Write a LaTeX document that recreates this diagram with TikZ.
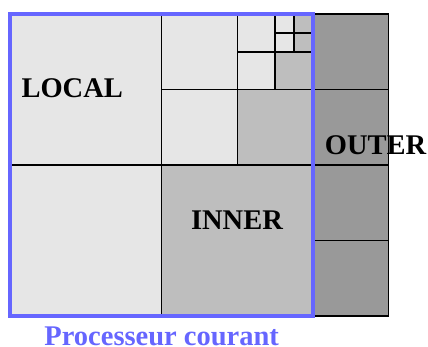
\documentclass[tikz,border=0pt]{standalone}
\usepackage{fontspec}
\setmainfont{Liberation Serif}
\usepackage{xcolor}
\usepackage{tikz}
\definecolor{clair}{HTML}{E6E6E6}
\definecolor{moyen}{HTML}{BEBEBE}
\definecolor{fonce}{HTML}{999999}
\definecolor{bleu}{HTML}{6666FF}

\begin{document}
\begin{tikzpicture}[x=1pt,y=-1pt,
  cell/.style={draw,line width=1.5pt},
  localcell/.style={cell,fill=clair},
  innercell/.style={cell,fill=moyen},
  outercell/.style={cell,fill=fonce},
  txt/.style={anchor=base,inner sep=0pt,font=\fontsize{28.5}{30}\selectfont\bfseries}]
  \useasboundingbox (0,0) rectangle (428,347);
  % outer column
  \foreach \ya/\yb in {14/89.5,89.5/165,165/240.5,240.5/316}
    \draw[outercell] (313,\ya) rectangle (388.5,\yb);
  % local cells
  \foreach \xa/\ya/\xb/\yb in {10/14/161.5/165, 10/165/161.5/316,
      161.5/14/237.25/89.5, 161.5/89.5/237.25/165,
      237.25/14/275.1/51.8, 237.25/51.8/275.1/89.5,
      275.1/14/294/32.9, 275.1/32.9/294/51.8}
    \draw[localcell] (\xa,\ya) rectangle (\xb,\yb);
  % inner cells
  \foreach \xa/\ya/\xb/\yb in {161.5/165/313/316, 237.25/89.5/313/165,
      275.1/51.8/313/89.5, 294/14/313/32.9, 294/32.9/313/51.8}
    \draw[innercell] (\xa,\ya) rectangle (\xb,\yb);
  % current processor
  \draw[bleu,line width=3.8pt] (10,14) rectangle (313,316);
  \node[txt] (local) at (72.2,97.7) {LOCAL};
  \node[txt] (inner) at (237,230) {INNER};
  \node[txt] (outer) at (375.5,155) {OUTER};
  \node[txt,text=bleu] (proc) at (161.7,345.7) {Processeur courant};
\end{tikzpicture}
\end{document}
